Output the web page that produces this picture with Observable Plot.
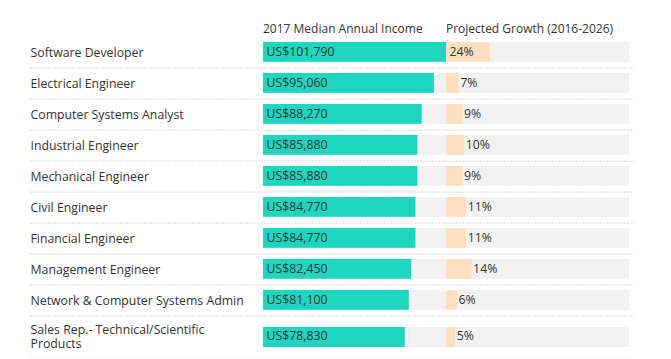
<!DOCTYPE html>
<html><head><meta charset="utf-8">
<script src="https://cdn.jsdelivr.net/npm/d3@7"></script>
<script src="https://cdn.jsdelivr.net/npm/@observablehq/plot@0.6"></script>
<style>
body{margin:0;background:#fff;font-family:"Open Sans",sans-serif;}
#chart{position:relative;width:671px;}
.hdr{position:relative;height:36px;font-size:12px;color:#333;}
.hdr span{position:absolute;top:20px;white-space:nowrap;}
.grp{position:relative;width:671px;}
.grp svg{display:block;}
.grp svg.ov{position:absolute;left:0;top:0;}
</style></head><body><div id="chart"></div>
<script>
const jobs = ["Software Developer","Electrical Engineer","Computer Systems Analyst","Industrial Engineer","Mechanical Engineer","Civil Engineer","Financial Engineer","Management Engineer","Network & Computer Systems Admin","Sales Rep.- Technical/Scientific Products"];
const income = [101790,95060,88270,85880,85880,84770,84770,82450,81100,78830];
const growth = [24,7,9,10,9,11,11,14,6,5];
const headers = ["2017 Median Annual Income","Projected Growth (2016-2026)"];

const FONT = "'Open Sans', sans-serif";
const chart = document.getElementById("chart");
const hdr = document.createElement("div");
hdr.className = "hdr";
hdr.innerHTML = `<span style="left:263px"></span><span style="left:446px"></span>`;
hdr.children[0].textContent = headers[0];
hdr.children[1].textContent = headers[1];
chart.appendChild(hdr);

const maxIncome = d3.max(income);
const fmt = d3.format(",");

function group(idx, h, insetTop, insetBottom) {
  const rows = idx.map(i => ({job: jobs[i], income: income[i], growth: growth[i],
    label: jobs[i].replace("Scientific ", "Scientific\n")}));
  const rowH = h / rows.length;
  const common = {
    width: 671, height: h, marginLeft: 30, marginRight: 37, marginTop: 0, marginBottom: 0,
    y: {domain: rows.map(d => d.job), padding: 0, axis: null},
    style: {background: "transparent", fontFamily: FONT, fontSize: "12px", color: "#333", overflow: "visible"}
  };
  const txt = {fill: "#333", fontSize: 12.3, dy: -1};
  const main = Plot.plot({
    ...common,
    x: {domain: [0, maxIncome], range: [263, 446], axis: null},
    marks: [
      Plot.ruleY(rows, {y: "job", dy: rowH / 2 - 0.5, stroke: "#d9d9d9", strokeDasharray: "2,1"}),
      Plot.barX(rows, {y: "job", x1: 0, x2: maxIncome, fill: "#f2f2f2", insetTop, insetBottom}),
      Plot.barX(rows, {y: "job", x: "income", fill: "#1ed6bf", insetTop, insetBottom}),
      Plot.text(rows, {y: "job", text: "label", frameAnchor: "left", textAnchor: "start", lineHeight: 1.18, ...txt}),
      Plot.text(rows, {y: "job", x: 0, text: d => "US$" + fmt(d.income), textAnchor: "start", dx: 3, ...txt})
    ]
  });
  const ov = Plot.plot({
    ...common,
    x: {domain: [0, 100], range: [446, 629], axis: null},
    marks: [
      Plot.barX(rows, {y: "job", x1: 0, x2: 100, fill: "#f2f2f2", insetTop, insetBottom}),
      Plot.barX(rows, {y: "job", x: "growth", fill: "#fde0c0", insetTop, insetBottom}),
      Plot.text(rows.filter(d => d.growth > 20), {y: "job", x: 0, text: d => d.growth + "%", textAnchor: "start", dx: 3, ...txt}),
      Plot.text(rows.filter(d => d.growth <= 20), {y: "job", x: "growth", text: d => d.growth + "%", textAnchor: "start", dx: 1, ...txt})
    ]
  });
  ov.classList.add("ov");
  const g = document.createElement("div");
  g.className = "grp";
  g.appendChild(main);
  g.appendChild(ov);
  chart.appendChild(g);
}
group(d3.range(0, 9), 281, 5, 6.2);
group([9], 40, 10, 10);
</script></body></html>
